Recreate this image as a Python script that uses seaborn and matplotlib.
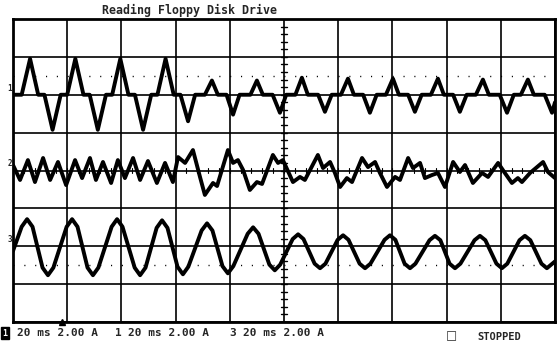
import matplotlib
matplotlib.use("Agg")
import matplotlib.pyplot as plt
import seaborn as sns
import pandas as pd

t1 = [0, 3.2, 6.3, 9.3, 11.6, 14.6, 17.6, 20.0, 23.0, 26.0, 28.3, 31.3, 34.3, 36.6, 39.6, 42.6,
      45.0, 48.0, 51.0, 53.3, 56.3, 59.3, 61.8, 64.6, 67.2, 70.8, 73.4, 75.6, 78.8, 81.2, 83.6,
      87.6, 90.0, 92.2, 95.8, 98.5, 100.8, 104.2, 106.6, 108.8, 112.6, 115.1, 117.6, 121.0, 123.6,
      125.8, 129.2, 131.7, 134.2, 137.6, 140.2, 142.4, 145.8, 148.3, 150.8, 154.2, 156.8, 159.0,
      162.4, 164.9, 167.4, 170.8, 173.4, 175.6, 179.6, 182.3, 184.8, 187.4, 190.0, 192.2, 196.2,
      198.9, 200]
i1 = [0, 0, 1.9, 0, 0, -1.85, 0, 0, 1.9, 0, 0, -1.85, 0, 0, 1.9, 0,
      0, -1.85, 0, 0, 1.9, 0, 0, -1.4, 0, 0, 0.75, 0, 0, -1.05, 0,
      0, 0.75, 0, 0, -0.95, 0, 0, 0.9, 0, 0, -0.9, 0, 0, 0.85,
      0, 0, -0.95, 0, 0, 0.85, 0, 0, -0.9, 0, 0, 0.85, 0,
      0, -0.9, 0, 0, 0.8, 0, 0, -0.95, 0, 0, 0.8, 0, 0,
      -0.95, -0.4]

t2 = [0, 2.6, 5.5, 8.1, 11.1, 13.7, 16.6, 19.6, 22.9, 25.5, 28.4, 30.6, 33.2, 36.2, 38.7, 41.3,
      44.3, 46.9, 49.8, 53.1, 56.1, 59.0, 60.9, 63.5, 66.4, 69.0, 70.8, 73.8, 75.3, 79.3, 81.2,
      83.0, 84.9, 87.4, 90.0, 91.9, 95.9, 97.8, 99.6, 103.3, 105.9, 107.7, 112.5, 114.4, 117.0,
      118.8, 120.7, 123.2, 125.1, 128.8, 131.0, 133.6, 135.4, 138.0, 141.0, 142.8, 145.8, 147.6,
      150.2, 152.0, 154.6, 156.8, 159.4, 162.4, 164.9, 166.8, 169.7, 173.1, 175.3, 179.0, 181.5,
      184.1, 186.3, 187.8, 190.8, 195.6, 197.4, 200]
i2 = [0.29, -0.50, 0.55, -0.61, 0.66, -0.50, 0.45, -0.77, 0.55, -0.40, 0.66, -0.50, 0.45, -0.66,
      0.55, -0.40, 0.66, -0.50, 0.50, -0.66, 0.40, -0.61, 0.71, 0.40, 1.08, -0.34, -1.29, -0.66,
      -0.82, 1.08, 0.40, 0.55, 0.03, -1.03, -0.61, -0.71, 0.82, 0.40, 0.55, -0.61, -0.34, -0.50,
      0.82, 0.13, 0.45, -0.13, -0.87, -0.40, -0.61, 0.66, 0.18, 0.45, -0.13, -0.87, -0.34, -0.50,
      0.66, 0.13, 0.40, -0.40, -0.24, -0.13, -0.87, 0.45, -0.08, 0.29, -0.66, -0.13, -0.34, 0.40,
      -0.13, -0.66, -0.40, -0.61, -0.13, 0.45, -0.08, -0.40]

t3 = [0, 3.2, 5.2, 7.2, 10.9, 12.9, 14.9, 19.8, 21.8, 23.8, 27.5, 29.5, 31.5, 36.4, 38.4, 40.4,
      44.9, 46.9, 48.9, 53.0, 55.0, 57.0, 60.7, 62.7, 64.7, 69.6, 71.6, 73.6, 77.3, 79.3, 81.3,
      86.6, 88.6, 90.6, 94.6, 96.6, 98.6, 103.2, 105.2, 107.2, 111.3, 113.3, 115.3, 119.8, 121.8,
      123.8, 127.9, 129.9, 131.9, 137.1, 139.1, 141.1, 144.5, 146.5, 148.5, 153.7, 155.7, 157.7,
      161.1, 163.1, 165.1, 170.3, 172.3, 174.3, 178.4, 180.4, 182.4, 186.9, 188.9, 190.9, 195.0,
      197.0, 199.0, 200]
i3 = [-0.25, 1.03, 1.43, 1.03, -1.13, -1.53, -1.13, 1.03, 1.43, 1.03, -1.13, -1.53, -1.13, 1.03,
      1.43, 1.03, -1.13, -1.53, -1.13, 0.97, 1.37, 0.97, -1.08, -1.48, -1.08, 0.83, 1.21, 0.83,
      -1.05, -1.43, -1.05, 0.66, 1.00, 0.66, -0.97, -1.27, -0.97, 0.38, 0.63, 0.38, -0.92, -1.16,
      -0.92, 0.34, 0.58, 0.34, -0.92, -1.16, -0.92, 0.34, 0.58, 0.34, -0.92, -1.16, -0.92, 0.32,
      0.55, 0.32, -0.92, -1.16, -0.92, 0.32, 0.55, 0.32, -0.92, -1.16, -0.92, 0.32, 0.55, 0.32,
      -0.92, -1.16, -0.92, -0.8]

channels = ["1", "2", "3"]
ground_offsets = [4.0, 0.0, -4.0]   # screen position (A) of each channel's ground
title = "Reading Floppy Disk Drive"
scale_text = "20 ms 2.00 A"
status_text = "STOPPED"

# ---------------- build table ----------------
frames = []
for ch, off, t, i in zip(channels, ground_offsets, [t1, t2, t3], [i1, i2, i3]):
    frames.append(pd.DataFrame({"t": t, "y": [v + off for v in i], "ch": ch}))
df = pd.concat(frames, ignore_index=True)

sns.set_style("white")
fig = plt.figure(figsize=(5.58, 3.43), dpi=100)
ax = fig.add_axes([13 / 558, 21 / 343, 542 / 558, 303 / 343])

# grid
for x in range(0, 201, 20):
    ax.axvline(x, color="black", lw=1.2, zorder=1)
for y in range(-8, 9, 2):
    ax.axhline(y, color="black", lw=1.2, zorder=1)
# minor ticks on centre lines
for k in range(-20, 21):
    yy = k * 0.4
    ax.plot([98.9, 101.1], [yy, yy], color="black", lw=1.0, zorder=1)
for k in range(0, 51):
    xx = k * 4
    ax.plot([xx, xx], [-0.12, 0.12], color="black", lw=0.8, zorder=1)
# dotted reference lines
for y in (5, -5):
    ax.axhline(y, color="black", lw=1.0, ls=(0, (0.8, 7)), zorder=1)

sns.lineplot(data=df, x="t", y="y", units="ch", estimator=None, sort=False,
             color="black", lw=2.8, ax=ax, legend=False, zorder=3)
for line in ax.lines[-1:]:
    line.set_solid_joinstyle("round")

ax.set_xlim(0, 200)
ax.set_ylim(-8, 8)
ax.set_xticks([])
ax.set_yticks([])
ax.set_xlabel("")
ax.set_ylabel("")
for s in ax.spines.values():
    s.set_visible(True)
    s.set_color("black")
    s.set_linewidth(2.0)

# trigger marker
ax.plot([18], [-8], marker="^", color="black", markersize=4, clip_on=False, zorder=4)

mono = "DejaVu Sans Mono"
# channel labels at left
for ch, off in zip(channels, ground_offsets):
    ax.text(-1.2, off + 0.35, ch, fontsize=5.5, family=mono, weight="bold",
            ha="center", va="center", clip_on=False)

fig.text(190 / 558, 1 - 10 / 343, title, family=mono, weight="bold", fontsize=8.4,
         ha="center", va="center")

# footer
fy = 1 - 333 / 343
fs = 8
fig.text(5 / 558, fy, "1", family=mono, weight="bold", fontsize=6, color="white",
         ha="center", va="center",
         bbox=dict(boxstyle="square,pad=0.15", fc="black", ec="black"))
fig.text(17 / 558, fy, scale_text, family=mono, weight="bold", fontsize=fs, ha="left", va="center")
fig.text(115 / 558, fy, channels[0], family=mono, weight="bold", fontsize=fs, ha="left", va="center")
fig.text(128 / 558, fy, scale_text, family=mono, weight="bold", fontsize=fs, ha="left", va="center")
fig.text(229 / 558, fy, channels[2], family=mono, weight="bold", fontsize=fs, ha="left", va="center")
fig.text(243 / 558, fy, scale_text, family=mono, weight="bold", fontsize=fs, ha="left", va="center")
fig.text(451 / 558, 1 - 336 / 343, "□", family="DejaVu Sans", weight="bold", fontsize=8.5,
         ha="center", va="center")
fig.text(477 / 558, 1 - 337 / 343, status_text, family=mono, weight="bold", fontsize=7.5,
         ha="left", va="center")

fig.savefig("out.png", dpi=100, facecolor="white")
